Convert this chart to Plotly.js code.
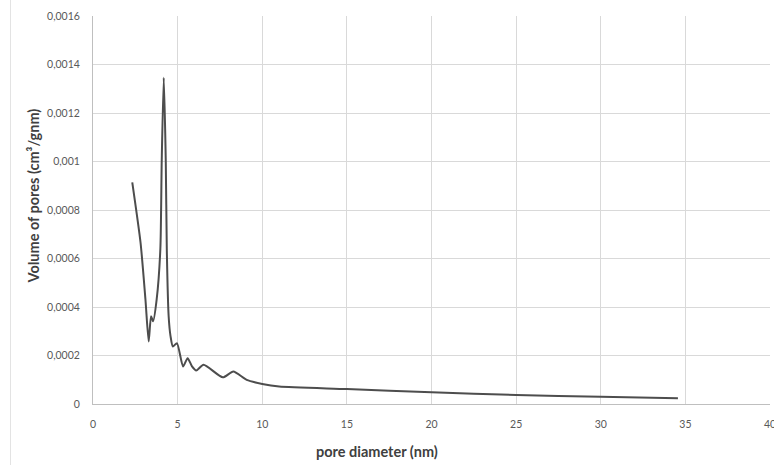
<!DOCTYPE html>
<html>
<head>
<meta charset="utf-8">
<script src="https://cdn.plot.ly/plotly-3.0.1.min.js"></script>
<style>
  html, body { margin: 0; padding: 0; background: #ffffff; }
  #chart { width: 774px; height: 465px; }
</style>
</head>
<body>
<div id="chart"></div>
<script>
// Pore size distribution: pore diameter (nm) vs. volume of pores (cm³/g·nm)
const poreDiameter = [
  2.32, 2.81, 3.10, 3.29, 3.43, 3.55, 3.76, 3.98, 4.06, 4.18, 4.30, 4.36,
  4.47, 4.58, 4.72, 4.96, 5.32, 5.59, 5.85, 6.10, 6.53, 7.67, 8.29, 9.08,
  10.0, 11.0, 15.0, 20.0, 25.0, 30.0, 34.56
];
const poreVolume = [
  0.000914, 0.000665, 0.000430, 0.000258, 0.000362, 0.000341, 0.000430, 0.000640,
  0.001000, 0.001345, 0.001000, 0.000640, 0.000362, 0.000280, 0.000237, 0.000251,
  0.000155, 0.000189, 0.000155, 0.000138, 0.000162, 0.000110, 0.000134, 0.0000994,
  0.0000825, 0.0000717, 0.0000619, 0.0000482, 0.0000371, 0.0000301, 0.0000235
];

const xTickVals = [0, 5, 10, 15, 20, 25, 30, 35, 40];
const xTickText = ['0', '5', '10', '15', '20', '25', '30', '35', '40'];
const yTickVals = [0, 0.0002, 0.0004, 0.0006, 0.0008, 0.001, 0.0012, 0.0014, 0.0016];
const yTickText = ['0', '0,0002', '0,0004', '0,0006', '0,0008', '0,001', '0,0012', '0,0014', '0,0016'];

const xTitle = 'pore diameter (nm)';
const yTitle = 'Volume of pores (cm³/gnm)';

const W = 774, H = 465;
const M = { l: 93, r: 4, t: 16, b: 61 };
const plotW = W - M.l - M.r, plotH = H - M.t - M.b;
// convert pixel positions on the page to paper coordinates
const px = x => (x - M.l) / plotW;
const py = y => 1 - (y - M.t) / plotH;

const tickFont = { family: 'Lato, "Open Sans", sans-serif', size: 10.5, color: '#595959' };
const titleFont = { family: 'Lato, "Open Sans", sans-serif', size: 14.5, color: '#404040', weight: 'bold' };

const trace = {
  type: 'scatter',
  mode: 'lines',
  x: poreDiameter,
  y: poreVolume,
  line: { color: '#4d4d4d', width: 2, shape: 'spline', smoothing: 0.6 },
  hoverinfo: 'skip'
};

const layout = {
  width: W, height: H,
  margin: M,
  paper_bgcolor: '#ffffff',
  plot_bgcolor: '#ffffff',
  showlegend: false,
  xaxis: {
    range: [0, 40],
    tickvals: xTickVals, ticktext: xTickText,
    showgrid: true, gridcolor: '#d9d9d9', gridwidth: 1,
    zeroline: false,
    showline: true, linecolor: '#bfbfbf', linewidth: 1,
    ticks: '', ticklabelstandoff: 10,
    ticklabeloverflow: 'allow',
    tickfont: tickFont
  },
  yaxis: {
    range: [0, 0.0016],
    tickvals: yTickVals, ticktext: yTickText,
    showgrid: true, gridcolor: '#d9d9d9', gridwidth: 1,
    zeroline: false,
    showline: true, linecolor: '#bfbfbf', linewidth: 1,
    ticks: '', ticklabelstandoff: 10,
    ticklabeloverflow: 'allow',
    tickfont: tickFont
  },
  annotations: [
    {
      text: xTitle, xref: 'paper', yref: 'paper',
      x: px(377), y: py(451), xanchor: 'center', yanchor: 'middle',
      showarrow: false, font: titleFont
    },
    {
      text: yTitle, xref: 'paper', yref: 'paper',
      x: px(32.5), y: py(196), xanchor: 'center', yanchor: 'middle',
      textangle: -90, showarrow: false, font: titleFont
    }
  ],
  shapes: [
    {
      type: 'line', xref: 'paper', yref: 'paper',
      x0: px(10.5), x1: px(10.5), y0: py(0), y1: py(465),
      line: { color: '#e3e3e3', width: 1 }
    }
  ]
};

Plotly.newPlot('chart', [trace], layout, { staticPlot: true, displayModeBar: false });
</script>
</body>
</html>
